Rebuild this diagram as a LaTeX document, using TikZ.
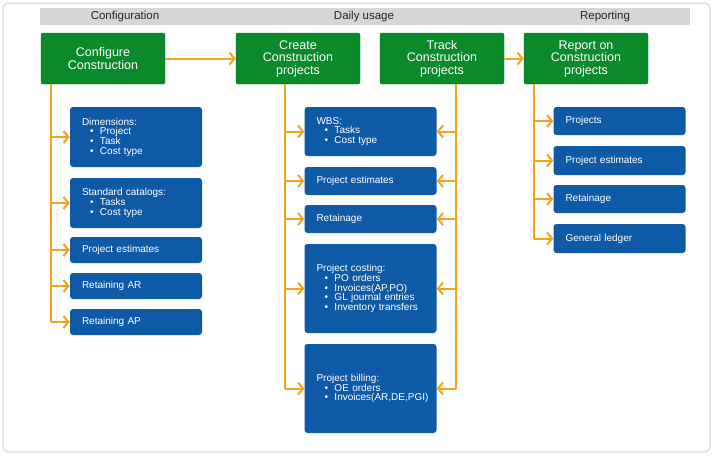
\documentclass[tikz,border=0pt]{standalone}
\usepackage{fontspec}
\setmainfont{Liberation Sans}
\usetikzlibrary{arrows.meta}
\definecolor{gr}{HTML}{0A8A2A}
\definecolor{bl}{HTML}{0F5AA6}
\definecolor{org}{HTML}{F5A21E}
\definecolor{hd}{HTML}{D6D6D6}
\begin{document}
\begin{tikzpicture}[x=1pt,y=-1pt,
 green/.style={draw=gr!80!black,fill=gr,rounded corners=2pt,text=white,font=\fontsize{12.5}{12.5}\selectfont,align=center,minimum width=124pt,minimum height=51pt,inner sep=2pt},
 blue/.style={fill=bl,rounded corners=3pt,text=white,font=\fontsize{10}{10.5}\selectfont,align=left,text width=108pt,inner xsep=12pt,minimum width=132pt},
 ln/.style={draw=org,line width=2pt},
 arr/.style={ln,-{Straight Barb[length=5pt,width=12pt,line width=2pt]}},
 hdr/.style={font=\fontsize{11.5}{12}\selectfont,text=black!85}]
\useasboundingbox (0,0) rectangle (714,456);
\draw[rounded corners=6pt,draw=black!12,line width=1.5pt,fill=white] (3,3) rectangle (710,452);
\fill[hd] (40,8) rectangle (690,25);
\node[hdr] (h1) at (125,16.5) {Configuration};
\node[hdr] (h2) at (364,16.5) {Daily usage};
\node[hdr] (h3) at (605,16.5) {Reporting};
\newcommand{\bl}[1]{\\[-0.8pt]\hspace*{8pt}\makebox[10pt][l]{\textbullet}#1}
% green
\node[green] (g1) at (103,58.5) {Configure\\Construction};
\node[green] (g2) at (298,58.5) {Create\\Construction\\projects};
\node[green] (g3) at (442,58.5) {Track\\Construction\\projects};
\node[green] (g4) at (586,58.5) {Report on\\Construction\\projects};
\draw[arr] (g1) -- (g2);
\draw[arr] (g3) -- (g4);
% left column
\node[blue,minimum height=60pt] (a1) at (136,137) {Dimensions:\bl{Project}\bl{Task}\bl{Cost type}};
\node[blue,minimum height=50pt] (a2) at (136,203) {Standard catalogs:\bl{Tasks}\bl{Cost type}};
\node[blue,minimum height=26pt] (a3) at (136,250) {Project estimates};
\node[blue,minimum height=26pt] (a4) at (136,286) {Retaining AR};
\node[blue,minimum height=26pt] (a5) at (136,322) {Retaining AP};
\coordinate (t1) at (51,84);
\coordinate (t1e) at (51,322);
\draw[ln] (t1) -- (t1e);
\foreach \n in {a1,a2,a3,a4,a5} \draw[arr] (t1 |- \n.west) -- (\n.west);
% middle
\node[blue,minimum height=49pt] (b1) at (370.5,131.5) {WBS:\bl{Tasks}\bl{Cost type}};
\node[blue,minimum height=28pt] (b2) at (370.5,181) {Project estimates};
\node[blue,minimum height=28pt] (b3) at (370.5,219) {Retainage};
\node[blue,minimum height=89pt] (b4) at (370.5,288.5) {Project costing:\bl{PO orders}\bl{Invoices(AP,PO)}\bl{GL journal entries}\bl{Inventory transfers}\\[6pt]};
\node[blue,minimum height=89pt] (b5) at (370.5,388.5) {Project billing:\bl{OE orders}\bl{Invoices(AR,DE,PGI)}\\[18pt]};
\coordinate (t2) at (285,84);
\coordinate (t2e) at (285,388.5);
\coordinate (t3) at (456,84);
\coordinate (t3e) at (456,388.5);
\draw[ln] (t2) -- (t2e);
\draw[ln] (t3) -- (t3e);
\foreach \n in {b1,b2,b3,b4,b5} {\draw[arr] (t2 |- \n.west) -- (\n.west); \draw[arr] (t3 |- \n.east) -- (\n.east);}
% right
\node[blue,minimum height=28pt] (c1) at (619.5,121) {Projects};
\node[blue,minimum height=29pt] (c2) at (619.5,160.5) {Project estimates};
\node[blue,minimum height=28pt] (c3) at (619.5,199) {Retainage};
\node[blue,minimum height=29pt] (c4) at (619.5,238.5) {General ledger};
\coordinate (t4) at (534,84);
\coordinate (t4e) at (534,238.5);
\draw[ln] (t4) -- (t4e);
\foreach \n in {c1,c2,c3,c4} \draw[arr] (t4 |- \n.west) -- (\n.west);
\end{tikzpicture}
\end{document}
